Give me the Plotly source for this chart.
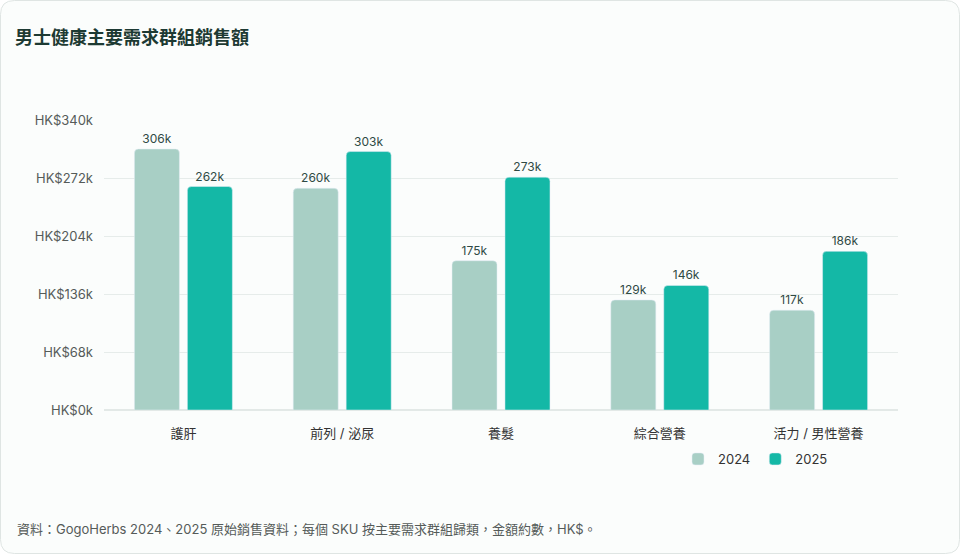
import plotly.graph_objects as go

# Sales by main need group (HK$)
categories = ["護肝", "前列 / 泌尿", "養髮", "綜合營養", "活力 / 男性營養"]
sales_2024 = [306000, 260000, 175000, 129000, 117000]
sales_2025 = [262000, 303000, 273000, 146000, 186000]
tick_vals = [0, 68000, 136000, 204000, 272000, 340000]
tick_text = ["HK$0k", "HK$68k", "HK$136k", "HK$204k", "HK$272k", "HK$340k"]

W, H = 960, 554
L, R, T, B = 104, 62, 120, 144
pw, ph = W - L - R, H - T - B

def px_x(x):
    return (x - L) / pw

def px_y(y):
    return (H - B - y) / ph

FONT = "Inter, 'Noto Sans CJK TC', sans-serif"

fig = go.Figure()
fig.add_trace(go.Bar(
    name="2024", x=categories, y=sales_2024,
    marker_color="#a8cfc5",
    text=[f"{v // 1000}k" for v in sales_2024],
    textposition="outside", cliponaxis=False,
    textfont=dict(size=12, color="#2f4a44"),
))
fig.add_trace(go.Bar(
    name="2025", x=categories, y=sales_2025,
    marker_color="#14b8a6",
    text=[f"{v // 1000}k" for v in sales_2025],
    textposition="outside", cliponaxis=False,
    textfont=dict(size=12, color="#2f4a44"),
))

# card border
x0, x1 = px_x(0.5), px_x(W - 0.5)
y0, y1 = px_y(H - 0.5), px_y(0.5)
rx, ry = 14 / pw, 14 / ph
path = (f"M{x0+rx},{y0} L{x1-rx},{y0} Q{x1},{y0} {x1},{y0+ry} "
        f"L{x1},{y1-ry} Q{x1},{y1} {x1-rx},{y1} L{x0+rx},{y1} "
        f"Q{x0},{y1} {x0},{y1-ry} L{x0},{y0+ry} Q{x0},{y0} {x0+rx},{y0} Z")
fig.add_shape(type="path", path=path, xref="paper", yref="paper",
              line=dict(color="#dfe5e3", width=1), fillcolor="#fbfdfc", layer="below")

fig.add_annotation(
    text="資料：GogoHerbs 2024、2025 原始銷售資料；每個 SKU 按主要需求群組歸類，金額約數，HK$。",
    xref="paper", yref="paper", x=px_x(15), y=px_y(529),
    xanchor="left", yanchor="middle", showarrow=False,
    font=dict(size=13, color="#555b59"),
)

fig.update_layout(
    width=W, height=H,
    margin=dict(l=L, r=R, t=T, b=B),
    paper_bgcolor="#ffffff",
    plot_bgcolor="rgba(0,0,0,0)",
    font=dict(family=FONT, size=13, color="#333"),
    title=dict(text="<b>男士健康主要需求群組銷售額</b>", x=15 / W, xanchor="left",
               y=1 - 38 / H, yanchor="middle", xref="container", yref="container",
               font=dict(size=18, color="#1d3a33")),
    barmode="group", bargap=0.333, bargroupgap=0.15, barcornerradius=4,
    legend=dict(orientation="h", x=px_x(678), y=px_y(459), xanchor="left", yanchor="middle",
                font=dict(size=13, color="#333"), bgcolor="rgba(0,0,0,0)",
                itemwidth=30, tracegroupgap=0),
    showlegend=True,
)
fig.update_yaxes(range=[0, 340000], tickvals=tick_vals, ticktext=tick_text,
                 showgrid=True, gridcolor="#e6ecea", zeroline=True, zerolinecolor="#e3e9e7",
                 tickfont=dict(size=13, color="#555b59"), ticklabelstandoff=10, fixedrange=True)
fig.update_xaxes(showgrid=False, showline=False,
                 tickfont=dict(size=13, color="#333"), ticklabelstandoff=14)

fig.write_html("out.html", config={"displayModeBar": False},
               post_script="document.body.style.margin='0';")
